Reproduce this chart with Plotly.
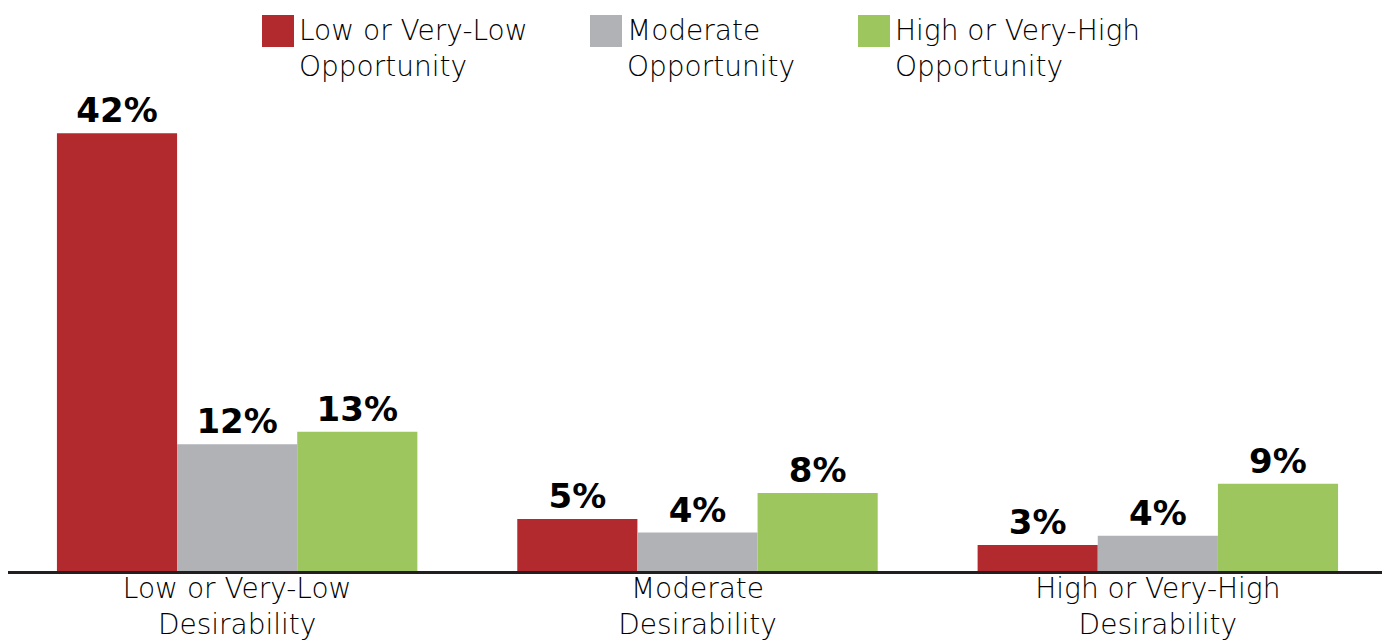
import plotly.graph_objects as go

categories = ["Low or Very-Low<br>Desirability", "Moderate<br>Desirability", "High or Very-High<br>Desirability"]
series_names = ["Low or Very-Low<br>Opportunity", "Moderate<br>Opportunity", "High or Very-High<br>Opportunity"]
low_opp = [42.1, 5.0, 2.5]
mod_opp = [12.2, 3.7, 3.4]
high_opp = [13.4, 7.5, 8.4]
low_labels = ["42%", "5%", "3%"]
mod_labels = ["12%", "4%", "4%"]
high_labels = ["13%", "8%", "9%"]
colors = ["#B2292E", "#B1B2B6", "#9DC75E"]

# page body has an 8px default margin; size the figure so it ends at the window edge
OFF = 8
W, H = 1390 - OFF, 642 - OFF
ML, MR, MT, MB = 0, 2, 100 - OFF, 71
plot_w = W - ML - MR
plot_h = H - MT - MB

def px2x(px):
    return (px - OFF - ML) / plot_w

def px2y(py):
    return (H - MB - (py - OFF)) / plot_h

label_font = dict(family="DejaVu Sans", size=34, color="black", weight="bold")
fig = go.Figure()
for name, vals, labels, col in zip(series_names, [low_opp, mod_opp, high_opp],
                                   [low_labels, mod_labels, high_labels], colors):
    fig.add_trace(go.Bar(
        x=categories, y=vals, name=name, marker=dict(color=col, line=dict(width=0)),
        text=labels, textposition="outside", textfont=label_font,
        constraintext="none", cliponaxis=False, showlegend=False,
    ))

# custom legend with large swatches
legend_px = [262, 590, 858]
shapes = []
annotations = []
for name, col, lx in zip(series_names, colors, legend_px):
    shapes.append(dict(type="rect", xref="paper", yref="paper",
                       x0=px2x(lx), x1=px2x(lx + 32), y0=px2y(47), y1=px2y(15),
                       fillcolor=col, line=dict(width=0)))
    annotations.append(dict(text=name, xref="paper", yref="paper",
                            x=px2x(lx + 35), y=px2y(12), xanchor="left", yanchor="top",
                            align="left", showarrow=False,
                            font=dict(family="DejaVu Sans", size=28, color="black", weight=300)))

fig.update_layout(
    width=W, height=H, margin=dict(l=ML, r=MR, t=MT, b=MB, autoexpand=False),
    paper_bgcolor="white", plot_bgcolor="white",
    barmode="group", bargap=0.217, bargroupgap=0,
    shapes=shapes, annotations=annotations,
    xaxis=dict(showgrid=False, showline=True, linecolor="#231F20", linewidth=3,
               ticks="", tickfont=dict(family="DejaVu Sans", size=28, color="black", weight=300),
               range=[-0.4978, 2.5], fixedrange=True, automargin=False,
               ticklabelstandoff=-10),
    yaxis=dict(visible=False, range=[0, 45.3], showgrid=False, zeroline=False,
               fixedrange=True, automargin=False),
    showlegend=False,
)

fig.write_html("out.html", config={"displayModeBar": False})
